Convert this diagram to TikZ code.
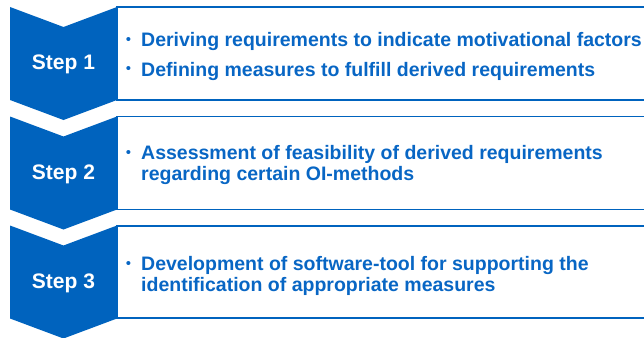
\documentclass[tikz,border=0pt]{standalone}
\usepackage{fontspec}
\setmainfont{Liberation Sans}
\definecolor{stepblue}{RGB}{0,99,190}
\definecolor{textblue}{RGB}{8,102,196}
\tikzset{
  chevron/.pic={\fill[stepblue] (0,0) -- (53.5,20) -- (107,0) -- (107,93) -- (53.5,113) -- (0,93) -- cycle;},
  panel/.style={draw=stepblue,line width=1.8pt},
  steplabel/.style={text=white,font=\fontsize{21}{24}\selectfont\bfseries,anchor=center,inner sep=0pt},
  bul/.style={text=textblue,font=\fontsize{15}{17}\selectfont,anchor=base,inner sep=0pt},
  item/.style={text=textblue,font=\fontsize{19.5}{22}\selectfont\bfseries,anchor=base west,inner sep=0pt},
}
\begin{document}
\begin{tikzpicture}[x=1pt,y=-1pt]
\useasboundingbox (0,0) rectangle (644,337);
\clip (0,0) rectangle (644,337);
% panels
\draw[panel] (117,7) rectangle (660,100);
\draw[panel] (117,116.5) rectangle (660,209.5);
\draw[panel] (117,226) rectangle (660,318);
% chevrons
\pic at (10,7) {chevron};
\pic at (10,116.5) {chevron};
\pic at (10,225.5) {chevron};
% step labels
\node[steplabel] (s1) at (63.5,64.5) {Step 1};
\node[steplabel] (s2) at (63.5,174) {Step 2};
\node[steplabel] (s3) at (63.5,283) {Step 3};
% step 1 items
\node[bul] (b11) at (128.5,45) {•};
\node[item] (t11) at (141,47) {Deriving requirements to indicate motivational factors};
\node[bul] (b12) at (128.5,74) {•};
\node[item] (t12) at (141,76) {Defining measures to fulfill derived requirements};
% step 2 items
\node[bul] (b21) at (128.5,157) {•};
\node[item] (t21) at (141,159) {Assessment of feasibility of derived requirements};
\node[item] (t22) at (141,180) {regarding certain OI-methods};
% step 3 items
\node[bul] (b31) at (128.5,268) {•};
\node[item] (t31) at (141,270) {Development of software-tool for supporting the};
\node[item] (t32) at (141,291) {identification of appropriate measures};
\end{tikzpicture}
\end{document}
